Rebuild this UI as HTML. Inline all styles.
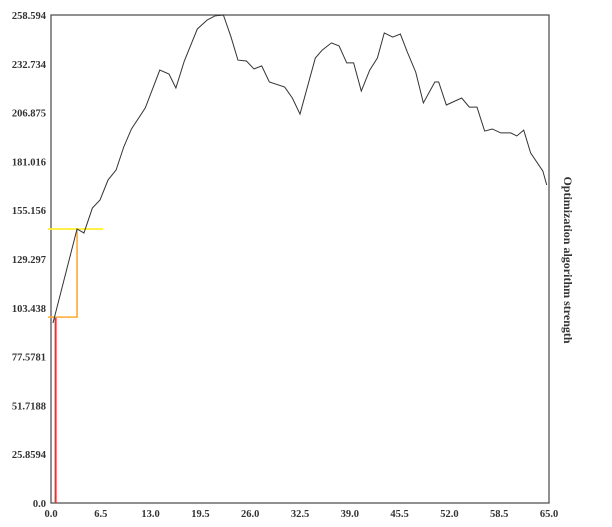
<!DOCTYPE html>
<html><head><meta charset="utf-8"><style>
body{margin:0;background:#fff;width:612px;height:522px;overflow:hidden}
text{font-family:"Liberation Serif",serif;font-weight:bold;fill:#333}
</style></head><body>
<svg id="chart" width="612" height="522" xmlns="http://www.w3.org/2000/svg"></svg>
<script>
const xTicks=["0.0","6.5","13.0","19.5","26.0","32.5","39.0","45.5","52.0","58.5","65.0"];
const yTicks=["0.0","25.8594","51.7188","77.5781","103.438","129.297","155.156","181.016","206.875","232.734","258.594"];
const xVals=[0.26,3.4,4.3,5.4,6.4,7.45,8.5,9.5,10.5,12.3,14.2,15.4,16.3,17.4,19.1,20.4,21.4,22.5,23.5,24.4,25.5,26.5,27.5,28.5,30.5,31.5,32.5,34.5,35.4,36.6,37.6,38.6,39.5,40.5,41.6,42.6,43.5,44.6,45.6,46.5,47.6,48.6,50.1,50.6,51.6,53.6,54.6,55.6,56.6,57.6,58.7,60.0,60.8,61.7,62.6,64.2,64.7];
const yVals=[95.4,145.2,143.1,156.3,160.6,171.2,176.5,188.7,198.2,209.3,229.4,227.3,219.9,234.2,251.2,256.0,258.1,258.6,246.9,234.7,234.2,230.0,231.6,223.1,220.4,214.6,206.1,235.8,240.0,243.8,242.2,233.2,233.2,218.3,229.4,235.8,249.1,246.9,248.5,239.0,228.4,212.0,223.1,223.1,210.9,214.6,209.8,209.8,197.1,198.2,196.1,196.1,194.5,197.6,185.5,175.9,168.5];
const markerX=[0.6,3.4];
const markerY=[98.5,145.2];
const L=51,R=549,T=15,B=503,XMAX=65,YMAX=258.594;
const sx=v=>L+(v/XMAX)*(R-L);
const sy=v=>B-(v/YMAX)*(B-T);
const svg=document.getElementById('chart');
const NS='http://www.w3.org/2000/svg';
function mk(tag,attrs){const e=document.createElementNS(NS,tag);for(const k in attrs)e.setAttribute(k,attrs[k]);svg.appendChild(e);return e;}
const frame=mk('rect',{x:L,y:T,width:R-L,height:B-T,fill:'none',stroke:'#555','stroke-width':1.3});


yTicks.forEach((t,i)=>{const v=YMAX*i/(yTicks.length-1);
 const e=mk('text',{x:46,y:sy(v)+4,'text-anchor':'end','font-size':10.5});e.textContent=t;
 
 });
xTicks.forEach((t,i)=>{const v=XMAX*i/(xTicks.length-1);
 const e=mk('text',{x:sx(v),y:517,'text-anchor':'middle','font-size':10.5});e.textContent=t;
 
 });
const title=mk('text',{x:0,y:0,'text-anchor':'middle','font-size':12,transform:'translate(564,260) rotate(90)',fill:'#111'});
title.textContent='Optimization algorithm strength';


// markers
const red=mk('line',{x1:sx(markerX[0]),x2:sx(markerX[0]),y1:B,y2:sy(markerY[0]),stroke:'#f03030','stroke-width':2});


const or=mk('polyline',{points:`${L-3},${sy(markerY[0])} ${sx(markerX[1])},${sy(markerY[0])} ${sx(markerX[1])},${sy(markerY[1])}`,fill:'none',stroke:'#ffaa30','stroke-width':1.6});


const yl=mk('line',{x1:L-3,x2:103,y1:sy(markerY[1]),y2:sy(markerY[1]),stroke:'#ffee30','stroke-width':1.8});


const pts=xVals.map((x,i)=>sx(x)+','+sy(yVals[i])).join(' ');
const line=mk('polyline',{points:pts,fill:'none',stroke:'#333','stroke-width':1});


</script>
</body></html>
